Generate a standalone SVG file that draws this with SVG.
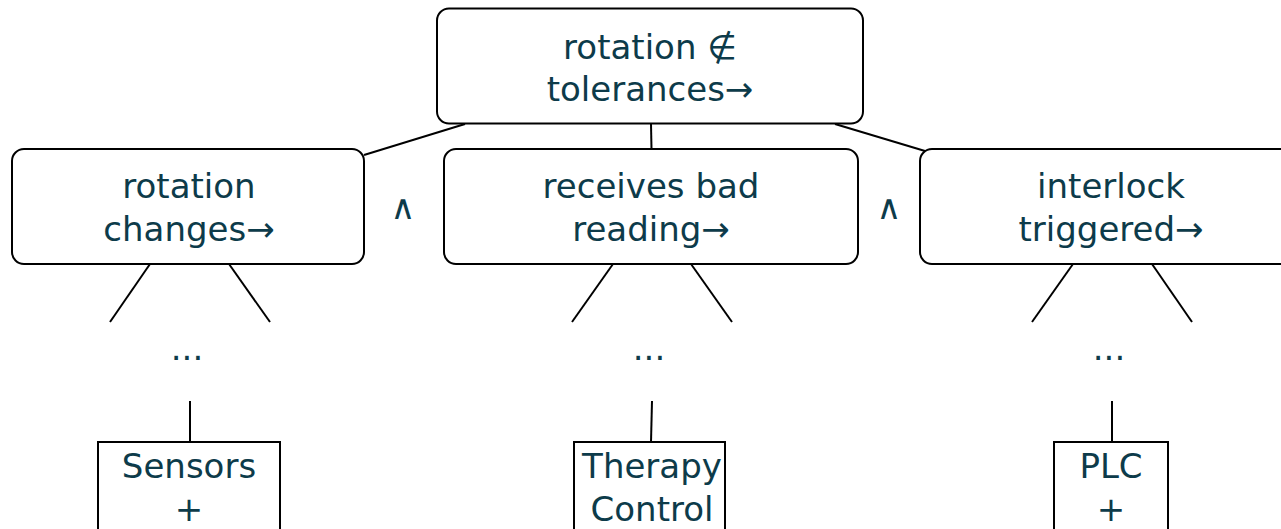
<svg xmlns="http://www.w3.org/2000/svg" width="1281" height="529" viewBox="0 0 1281 529">
<style>
.box{fill:#fff;stroke:#000;stroke-width:2}
.t{font-family:"DejaVu Sans",Verdana,sans-serif;font-size:34px;fill:#0d3b4a;text-anchor:middle}
.c{stroke:#000;stroke-width:2;fill:none}
</style>
<rect width="1281" height="529" fill="#fff"/>
<g id="connectors">
<line class="c" x1="465" y1="124" x2="364" y2="155"/>
<line class="c" x1="651" y1="124" x2="651.5" y2="149"/>
<line class="c" x1="835" y1="124" x2="925" y2="151"/>
<line class="c" x1="150" y1="264" x2="110" y2="322"/>
<line class="c" x1="229" y1="264" x2="270" y2="322"/>
<line class="c" x1="613" y1="264" x2="572" y2="322"/>
<line class="c" x1="691" y1="264" x2="732" y2="322"/>
<line class="c" x1="1073" y1="264" x2="1032" y2="322"/>
<line class="c" x1="1152" y1="264" x2="1192" y2="322"/>
<line class="c" x1="190" y1="401" x2="190" y2="442"/>
<line class="c" x1="652" y1="401" x2="651" y2="442"/>
<line class="c" x1="1112" y1="401" x2="1112" y2="442"/>
</g>
<g id="root">
<rect class="box" x="437" y="8.5" width="426" height="115" rx="12"/>
<text class="t" x="650" y="59">rotation ∉</text>
<text class="t" x="650" y="101">tolerances→</text>
</g>
<g id="n1">
<rect class="box" x="12" y="149" width="352" height="115" rx="12"/>
<text class="t" x="189" y="198">rotation</text>
<text class="t" x="189" y="241">changes→</text>
</g>
<g id="n2">
<rect class="box" x="444" y="149" width="414" height="115" rx="12"/>
<text class="t" x="651" y="198">receives bad</text>
<text class="t" x="651" y="241">reading→</text>
</g>
<g id="n3">
<rect class="box" x="920" y="149" width="382" height="115" rx="12"/>
<text class="t" x="1111" y="198">interlock</text>
<text class="t" x="1111" y="241">triggered→</text>
</g>
<g id="and1"><text class="t" x="403" y="219">∧</text></g>
<g id="and2"><text class="t" x="889" y="219">∧</text></g>
<g id="e1"><text class="t" x="187" y="360">...</text></g>
<g id="e2"><text class="t" x="649" y="360">...</text></g>
<g id="e3"><text class="t" x="1109" y="360">...</text></g>
<g id="b1">
<rect class="box" x="98" y="442" width="182" height="100"/>
<text class="t" x="189" y="478">Sensors</text>
<text class="t" x="189" y="521">+</text>
</g>
<g id="b2">
<rect class="box" x="574" y="442" width="151" height="100"/>
<text class="t" x="652" y="478">Therapy</text>
<text class="t" x="652" y="521">Control</text>
</g>
<g id="b3">
<rect class="box" x="1054" y="442" width="114" height="100"/>
<text class="t" x="1111" y="478">PLC</text>
<text class="t" x="1111" y="521">+</text>
</g>
</svg>
